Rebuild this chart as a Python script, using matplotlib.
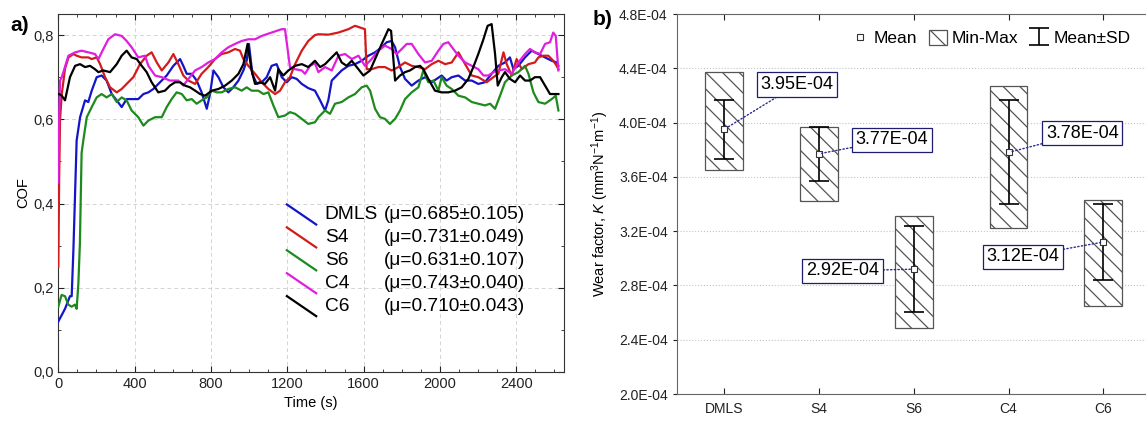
import numpy as np
import matplotlib.pyplot as plt
from matplotlib.ticker import MultipleLocator, FuncFormatter, FixedLocator

plt.rcParams['font.family'] = ['Liberation Sans', 'DejaVu Sans']
plt.rcParams['mathtext.fontset'] = 'custom'
plt.rcParams['mathtext.rm'] = 'Liberation Sans'
plt.rcParams['mathtext.it'] = 'Liberation Sans:italic'
plt.rcParams['hatch.linewidth'] = 0.9

# ---- panel a: COF vs time ----
t_dmls = [0, 35, 61, 70, 79, 96, 114, 140, 157, 175, 201, 227, 253, 280, 306, 332, 358, 393, 419, 446,
          472, 498, 533, 568, 603, 638, 655, 673, 699, 725, 751, 778, 795, 813, 839, 865, 891, 917, 944, 970,
          987, 999, 1017, 1040, 1066, 1092, 1118, 1144, 1171, 1197, 1223, 1249, 1276, 1310, 1345, 1372, 1398,
          1415, 1433, 1459, 1485, 1520, 1555, 1590, 1625, 1660, 1695, 1721, 1747, 1765, 1791, 1817, 1852, 1887,
          1922, 1957, 1983, 2009, 2035, 2062, 2097, 2132, 2167, 2201, 2236, 2271, 2306, 2341, 2367, 2385, 2411,
          2446, 2481, 2516, 2551, 2586, 2612, 2621]
cof_dmls = [0.12, 0.15, 0.18, 0.18, 0.29, 0.55, 0.605, 0.645, 0.641, 0.668, 0.700, 0.704, 0.692, 0.660, 0.645,
            0.629, 0.648, 0.648, 0.648, 0.660, 0.664, 0.672, 0.688, 0.704, 0.727, 0.743, 0.727, 0.708, 0.708,
            0.692, 0.664, 0.625, 0.660, 0.716, 0.700, 0.676, 0.664, 0.676, 0.692, 0.716, 0.739, 0.779, 0.708,
            0.684, 0.688, 0.700, 0.727, 0.731, 0.700, 0.688, 0.700, 0.696, 0.684, 0.674, 0.668, 0.645, 0.621,
            0.645, 0.692, 0.704, 0.716, 0.727, 0.731, 0.739, 0.751, 0.759, 0.771, 0.783, 0.786, 0.771, 0.724,
            0.696, 0.680, 0.692, 0.700, 0.688, 0.696, 0.704, 0.692, 0.700, 0.704, 0.692, 0.692, 0.684, 0.688,
            0.708, 0.727, 0.735, 0.747, 0.719, 0.727, 0.747, 0.763, 0.755, 0.747, 0.739, 0.735, 0.727]

t_s4 = [0, 4, 9, 18, 35, 53, 79, 96, 122, 157, 175, 201, 219, 245, 271, 306, 332, 358, 393, 428, 463, 489,
        516, 542, 577, 603, 629, 655, 682, 717, 751, 786, 821, 856, 891, 926, 952, 970, 996, 1031, 1066, 1101,
        1136, 1162, 1188, 1214, 1241, 1276, 1310, 1345, 1363, 1415, 1468, 1520, 1555, 1581, 1607, 1616, 1642,
        1677, 1712, 1747, 1782, 1817, 1852, 1887, 1922, 1957, 1992, 2027, 2062, 2097, 2132, 2167, 2201, 2245,
        2280, 2306, 2333, 2350, 2376, 2402, 2429, 2464, 2498, 2516, 2542, 2568, 2594, 2612, 2621]
cof_s4 = [0.25, 0.45, 0.60, 0.660, 0.72, 0.747, 0.755, 0.751, 0.747, 0.747, 0.743, 0.747, 0.731, 0.700, 0.676,
          0.664, 0.672, 0.684, 0.700, 0.731, 0.751, 0.759, 0.735, 0.716, 0.735, 0.755, 0.731, 0.704, 0.692,
          0.684, 0.708, 0.724, 0.743, 0.755, 0.759, 0.767, 0.763, 0.743, 0.727, 0.708, 0.688, 0.672, 0.660,
          0.668, 0.688, 0.700, 0.731, 0.763, 0.786, 0.800, 0.802, 0.801, 0.806, 0.814, 0.822, 0.818, 0.814,
          0.719, 0.719, 0.724, 0.724, 0.716, 0.724, 0.735, 0.727, 0.724, 0.719, 0.731, 0.739, 0.731, 0.735,
          0.759, 0.731, 0.704, 0.700, 0.688, 0.700, 0.708, 0.759, 0.731, 0.704, 0.743, 0.719, 0.731, 0.735,
          0.747, 0.751, 0.751, 0.739, 0.727, 0.719]

t_s6 = [0, 17, 35, 52, 70, 87, 96, 105, 113, 122, 131, 149, 175, 201, 227, 253, 280, 306, 332, 358, 384, 419,
        446, 472, 507, 542, 568, 594, 620, 647, 673, 699, 725, 751, 778, 804, 830, 856, 891, 926, 961, 987, 1013,
        1048, 1075, 1101, 1127, 1153, 1188, 1214, 1241, 1276, 1310, 1345, 1363, 1398, 1424, 1450, 1485, 1520,
        1555, 1590, 1616, 1634, 1660, 1686, 1712, 1738, 1765, 1791, 1817, 1852, 1887, 1913, 1939, 1966, 1992,
        2009, 2035, 2062, 2097, 2132, 2167, 2201, 2236, 2263, 2289, 2315, 2341, 2376, 2411, 2446, 2464, 2490,
        2516, 2551, 2586, 2607, 2621]
cof_s6 = [0.155, 0.183, 0.18, 0.16, 0.155, 0.16, 0.15, 0.21, 0.305, 0.52, 0.55, 0.605, 0.629, 0.652, 0.660,
          0.652, 0.660, 0.641, 0.652, 0.645, 0.621, 0.605, 0.585, 0.597, 0.605, 0.605, 0.629, 0.648, 0.664,
          0.660, 0.645, 0.648, 0.637, 0.645, 0.652, 0.668, 0.664, 0.664, 0.672, 0.676, 0.668, 0.676, 0.668,
          0.668, 0.660, 0.664, 0.633, 0.605, 0.609, 0.617, 0.613, 0.601, 0.589, 0.593, 0.605, 0.621, 0.613,
          0.637, 0.641, 0.652, 0.660, 0.676, 0.680, 0.668, 0.625, 0.605, 0.601, 0.589, 0.601, 0.621, 0.648,
          0.664, 0.676, 0.716, 0.688, 0.692, 0.668, 0.700, 0.680, 0.672, 0.656, 0.652, 0.641, 0.637, 0.633,
          0.637, 0.625, 0.656, 0.688, 0.704, 0.712, 0.727, 0.708, 0.664, 0.641, 0.637, 0.648, 0.656, 0.621]

t_c4 = [0, 5, 9, 18, 53, 88, 122, 157, 192, 210, 236, 262, 297, 332, 358, 384, 419, 454, 472, 507, 542, 585,
        629, 655, 682, 717, 751, 786, 821, 856, 891, 926, 961, 996, 1031, 1066, 1118, 1171, 1188, 1214, 1241,
        1276, 1293, 1319, 1345, 1363, 1398, 1433, 1468, 1503, 1538, 1573, 1607, 1642, 1677, 1712, 1747, 1773,
        1800, 1826, 1852, 1887, 1922, 1957, 1992, 2018, 2044, 2070, 2097, 2132, 2167, 2201, 2228, 2254, 2280,
        2306, 2341, 2376, 2411, 2446, 2472, 2498, 2525, 2551, 2577, 2594, 2607, 2621]
cof_c4 = [0.45, 0.62, 0.692, 0.700, 0.751, 0.759, 0.763, 0.759, 0.755, 0.743, 0.767, 0.790, 0.802, 0.798,
          0.786, 0.771, 0.747, 0.751, 0.727, 0.704, 0.700, 0.692, 0.692, 0.680, 0.696, 0.716, 0.724, 0.735,
          0.743, 0.759, 0.771, 0.779, 0.786, 0.790, 0.790, 0.798, 0.806, 0.814, 0.814, 0.724, 0.719, 0.716,
          0.708, 0.727, 0.733, 0.712, 0.724, 0.716, 0.751, 0.755, 0.743, 0.751, 0.727, 0.743, 0.763, 0.775,
          0.767, 0.755, 0.767, 0.779, 0.779, 0.755, 0.735, 0.739, 0.763, 0.779, 0.783, 0.767, 0.751, 0.735,
          0.727, 0.719, 0.704, 0.704, 0.712, 0.716, 0.719, 0.708, 0.735, 0.755, 0.767, 0.759, 0.755, 0.779,
          0.783, 0.806, 0.798, 0.716]

t_c6 = [0, 4, 18, 35, 61, 88, 114, 140, 166, 192, 210, 236, 271, 306, 332, 358, 384, 411, 437, 463, 489, 524,
        559, 585, 612, 638, 664, 690, 717, 743, 769, 804, 839, 874, 909, 944, 970, 992, 1013, 1031, 1057, 1083,
        1110, 1136, 1153, 1179, 1206, 1241, 1276, 1310, 1345, 1372, 1398, 1424, 1459, 1485, 1511, 1538, 1564,
        1599, 1634, 1660, 1695, 1730, 1744, 1765, 1791, 1817, 1843, 1870, 1896, 1913, 1939, 1974, 2009, 2044,
        2079, 2114, 2149, 2175, 2201, 2228, 2250, 2271, 2289, 2303, 2324, 2341, 2367, 2394, 2420, 2446, 2472,
        2498, 2525, 2551, 2577, 2603, 2621]
cof_c6 = [0.66, 0.66, 0.656, 0.645, 0.700, 0.727, 0.731, 0.724, 0.727, 0.719, 0.712, 0.716, 0.712, 0.731,
          0.751, 0.763, 0.747, 0.743, 0.727, 0.712, 0.688, 0.664, 0.668, 0.680, 0.688, 0.688, 0.680, 0.676,
          0.668, 0.660, 0.656, 0.668, 0.672, 0.680, 0.692, 0.708, 0.731, 0.779, 0.716, 0.684, 0.688, 0.684,
          0.700, 0.668, 0.719, 0.704, 0.716, 0.727, 0.731, 0.724, 0.739, 0.724, 0.731, 0.743, 0.759, 0.735,
          0.727, 0.739, 0.724, 0.704, 0.716, 0.743, 0.779, 0.814, 0.810, 0.692, 0.704, 0.712, 0.716, 0.724,
          0.727, 0.719, 0.696, 0.668, 0.664, 0.664, 0.668, 0.676, 0.696, 0.724, 0.755, 0.790, 0.822, 0.826,
          0.755, 0.680, 0.700, 0.712, 0.696, 0.688, 0.704, 0.692, 0.692, 0.700, 0.700, 0.680, 0.660, 0.660,
          0.660]

names = ["DMLS", "S4", "S6", "C4", "C6"]
mu_text = ["(\u03bc=0.685\u00b10.105)", "(\u03bc=0.731\u00b10.049)", "(\u03bc=0.631\u00b10.107)",
           "(\u03bc=0.743\u00b10.040)", "(\u03bc=0.710\u00b10.043)"]
colors = ["#1414c8", "#d21c1c", "#1e8a1e", "#e01ee0", "#000000"]

# ---- panel b: wear factor ----
k_mean = np.array([3.95, 3.77, 2.92, 3.78, 3.12]) * 1e-4
k_min = np.array([3.65, 3.42, 2.49, 3.22, 2.65]) * 1e-4
k_max = np.array([4.37, 3.97, 3.31, 4.27, 3.43]) * 1e-4
k_sd = np.array([0.215, 0.197, 0.318, 0.383, 0.279]) * 1e-4

fig = plt.figure(figsize=(11.46, 4.21), dpi=100)
ax1 = fig.add_axes([0.0509, 0.1164, 0.4412, 0.8503])
ax2 = fig.add_axes([0.5905, 0.0641, 0.4136, 0.9026])

series = [(t_dmls, cof_dmls), (t_s4, cof_s4), (t_s6, cof_s6), (t_c4, cof_c4), (t_c6, cof_c6)]
for (t, c), col in zip(series, colors):
    ax1.plot(t, c, color=col, lw=1.6, zorder=3)

ax1.set_xlim(0, 2650)
ax1.set_ylim(0, 0.85)
ax1.xaxis.set_major_locator(MultipleLocator(400))
ax1.xaxis.set_minor_locator(MultipleLocator(100))
ax1.yaxis.set_major_locator(MultipleLocator(0.2))
ax1.yaxis.set_minor_locator(MultipleLocator(0.1))
ax1.yaxis.set_major_formatter(FuncFormatter(lambda v, p: f"{v:.1f}".replace(".", ",")))
ax1.tick_params(which="both", direction="in", top=True, right=True, labelsize=10.5, colors="#222222")
ax1.tick_params(which="major", length=4)
ax1.tick_params(which="minor", length=2.5)
ax1.grid(True, which="major", ls=(0, (4, 3)), color="#d4d4d4", lw=0.7, zorder=0)
for s in ax1.spines.values():
    s.set_color("#333333")
ax1.set_xlabel("Time (s)", fontsize=10.5)
ax1.set_ylabel("COF", fontsize=10.5, labelpad=2)

# legend of panel a, drawn as diagonal strokes with aligned columns
for i, (nm, mu, col) in enumerate(zip(names, mu_text, colors)):
    yc = 0.440 - i * 0.064
    ax1.plot([0.452, 0.510], [yc + 0.028, yc - 0.028], color=col, lw=1.6, transform=ax1.transAxes)
    ax1.text(0.527, yc, nm, fontsize=13.8, va="center", transform=ax1.transAxes)
    ax1.text(0.643, yc, mu, fontsize=13.8, va="center", transform=ax1.transAxes)

x = np.arange(len(names))
bars = ax2.bar(x, k_max - k_min, bottom=k_min, width=0.4, color="white", edgecolor="#555555",
               hatch="\\\\", lw=0.9, zorder=2)
eb = ax2.errorbar(x, k_mean, yerr=k_sd, fmt="none", ecolor="black", elinewidth=1.2,
                  capsize=7.5, capthick=1.2, zorder=3)
mean_h, = ax2.plot(x, k_mean, "s", ms=4, mfc="white", mec="#333333", mew=0.8, ls="none", zorder=4)

label_pos = [(0.77, 4.28e-4), (1.77, 3.873e-4), (1.25, 2.907e-4), (3.78, 3.922e-4), (3.15, 3.012e-4)]
for i, (lx, ly) in enumerate(label_pos):
    ax2.annotate(f"{k_mean[i]:.2E}", xy=(x[i], k_mean[i]), xytext=(lx, ly), ha="center", va="center",
                 fontsize=13, zorder=5,
                 bbox=dict(boxstyle="square,pad=0.2", fc="white", ec="#1e1e70", lw=0.9),
                 arrowprops=dict(arrowstyle="-", ls=":", color="#2a2a90", lw=1.0, shrinkA=0, shrinkB=2))

ax2.set_xlim(-0.5, 4.5)
ax2.set_ylim(2.0e-4, 4.8e-4)
ax2.yaxis.set_major_locator(FixedLocator(np.arange(2.0, 4.81, 0.4) * 1e-4))
ax2.yaxis.set_major_formatter(FuncFormatter(lambda v, p: f"{v:.1E}"))
ax2.set_xticks(x)
ax2.set_xticklabels(names)
ax2.tick_params(axis="x", direction="in", top=True, length=4, pad=6, labelsize=10, colors="#222222")
ax2.tick_params(axis="y", direction="out", right=True, length=3, labelsize=10, colors="#222222")
ax2.yaxis.grid(True, ls=":", color="#c4c4c4", lw=0.8, zorder=0)
for s in ax2.spines.values():
    s.set_color("#666666")
ax2.set_ylabel("Wear factor, $\\mathit{K}$ (mm$^3$N$^{-1}$m$^{-1}$)", fontsize=10.5, labelpad=6)
ax2.legend([mean_h, bars, eb], ["Mean", "Min-Max", "Mean\u00b1SD"], loc="upper right",
           bbox_to_anchor=(0.99, 1.0), ncol=3, frameon=False, fontsize=12.5, handlelength=1.0,
           handleheight=1.0, handletextpad=0.3, columnspacing=0.7)

fig.text(0.009, 0.926, "a)", fontsize=15, weight="bold")
fig.text(0.517, 0.94, "b)", fontsize=15, weight="bold")

fig.savefig("out.png", dpi=100)
